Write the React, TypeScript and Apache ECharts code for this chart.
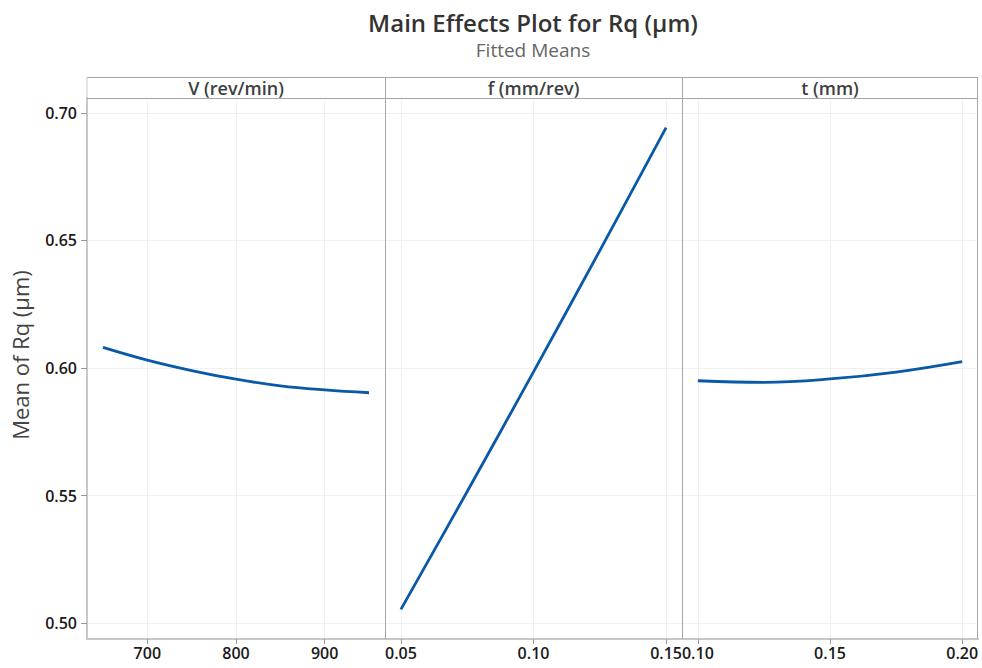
import React, { useEffect, useRef } from "react";
import * as echarts from "echarts";

const titleText = "Main Effects Plot for Rq (µm)";
const subtitleText = "Fitted Means";
const yAxisTitle = "Mean of Rq (µm)";
const panelTitles = ["V (rev/min)", "f (mm/rev)", "t (mm)"];

const vLevels = [650, 700, 750, 800, 850, 900, 950];
const vMeans = [0.6081, 0.6031, 0.599, 0.5956, 0.593, 0.5914, 0.5903];
const fLevels = [0.05, 0.075, 0.1, 0.125, 0.15];
const fMeans = [0.5054, 0.5516, 0.5985, 0.646, 0.6942];
const tLevels = [0.1, 0.125, 0.15, 0.175, 0.2];
const tMeans = [0.595, 0.5944, 0.5957, 0.5984, 0.6025];

const vTicks = [700, 800, 900];
const fTicks = [0.05, 0.1, 0.15];
const tTicks = [0.1, 0.15, 0.2];
const yTicks = [0.5, 0.55, 0.6, 0.65, 0.7];

const FONT = "'Open Sans', 'Noto Sans', sans-serif";
const LINE_COLOR = "#0a58a8";
const BORDER = "#a6a6a6";
const AXIS = "#c8c8c8";
const GRIDLINE = "#f0f0f0";

export default function App() {
  const ref = useRef<HTMLDivElement>(null);
  useEffect(() => {
    if (!ref.current) return;
    const chart = echarts.init(ref.current, null, { renderer: "svg" });

    const grids = [
      { left: 87, top: 98, width: 298, height: 541 },
      { left: 385, top: 98, width: 297, height: 541 },
      { left: 682, top: 98, width: 296, height: 541 },
    ];
    const xRanges = [
      [632, 968],
      [0.044, 0.156],
      [0.094, 0.206],
    ];
    const xTickSets = [vTicks, fTicks, tTicks];
    const xFmt = [
      (v: number) => String(Math.round(v)),
      (v: number) => v.toFixed(2),
      (v: number) => v.toFixed(2),
    ];

    const xAxes = grids.map((_, i) => ({
      type: "value",
      gridIndex: i,
      min: xRanges[i][0],
      max: xRanges[i][1],
      axisLine: { show: true, onZero: false, lineStyle: { color: AXIS, width: 2 } },
      axisTick: { show: true, customValues: xTickSets[i], length: 5, lineStyle: { color: "#999" } },
      axisLabel: {
        customValues: xTickSets[i],
        formatter: xFmt[i],
        color: "#1a1a1a",
        fontFamily: FONT,
        fontSize: 16,
        fontWeight: 600,
        margin: 6,
        hideOverlap: false,
      },
      splitLine: { show: true, customValues: xTickSets[i], lineStyle: { color: GRIDLINE, width: 1 } },
    }));

    const yAxes = grids.map((_, i) => ({
      type: "value",
      gridIndex: i,
      min: 0.4938,
      max: 0.7058,
      axisLine: { show: i === 0, onZero: false, lineStyle: { color: AXIS, width: 2 } },
      axisTick: { show: i === 0, customValues: yTicks, length: 6, lineStyle: { color: "#999" } },
      axisLabel: {
        show: i === 0,
        customValues: yTicks,
        formatter: (v: number) => v.toFixed(2),
        color: "#1a1a1a",
        fontFamily: FONT,
        fontSize: 16,
        fontWeight: 600,
        margin: 10,
      },
      splitLine: { show: true, customValues: yTicks, lineStyle: { color: GRIDLINE, width: 1 } },
    }));

    const makeSeries = (xs: number[], ys: number[], i: number) => ({
      type: "line",
      xAxisIndex: i,
      yAxisIndex: i,
      data: xs.map((x, k) => [x, ys[k]]),
      smooth: 0.4,
      symbol: "none",
      lineStyle: { color: LINE_COLOR, width: 2.8 },
      silent: true,
    });

    const line = (x1: number, y1: number, x2: number, y2: number, color = BORDER) => ({
      type: "line",
      shape: { x1, y1, x2, y2 },
      style: { stroke: color, lineWidth: 1 },
      silent: true,
      z: 100,
    });

    const centers = grids.map((g) => g.left + g.width / 2);

    chart.setOption({
      animation: false,
      backgroundColor: "#ffffff",
      title: [
        {
          text: titleText,
          left: 533,
          top: 9,
          padding: 0,
          textAlign: "center",
          textStyle: { fontFamily: FONT, fontSize: 24, lineHeight: 26, fontWeight: 600, color: "#333" },
        },
        {
          text: subtitleText,
          left: 533,
          top: 40,
          padding: 0,
          textAlign: "center",
          textStyle: { fontFamily: FONT, fontSize: 19, lineHeight: 20, fontWeight: 400, color: "#666" },
        },
      ],
      grid: grids.map((g) => ({ ...g, containLabel: false })),
      xAxis: xAxes,
      yAxis: yAxes,
      series: [
        makeSeries(vLevels, vMeans, 0),
        makeSeries(fLevels, fMeans, 1),
        makeSeries(tLevels, tMeans, 2),
      ],
      graphic: [
        line(87, 77.5, 978, 77.5),
        line(87, 98.5, 978, 98.5),
        line(977.5, 77, 977.5, 639),
        line(87, 77, 87, 98, AXIS),
        line(385.5, 77, 385.5, 639),
        line(682.5, 77, 682.5, 639),
        ...panelTitles.map((t, i) => ({
          type: "text",
          x: centers[i],
          y: 88,
          style: {
            text: t,
            align: "center",
            verticalAlign: "middle",
            fontFamily: FONT,
            fontSize: 18,
            fontWeight: 600,
            fill: "#404040",
          },
          z: 100,
        })),
        {
          type: "text",
          x: 20,
          y: 355,
          rotation: Math.PI / 2,
          style: {
            text: yAxisTitle,
            align: "center",
            verticalAlign: "middle",
            fontFamily: FONT,
            fontSize: 22,
            fontWeight: 500,
            fill: "#444",
          },
          z: 100,
        },
      ],
    });

    return () => chart.dispose();
  }, []);

  return (
    <div
      ref={ref}
      style={{ position: "fixed", left: 0, top: 0, width: 982, height: 668, background: "#fff" }}
    />
  );
}
